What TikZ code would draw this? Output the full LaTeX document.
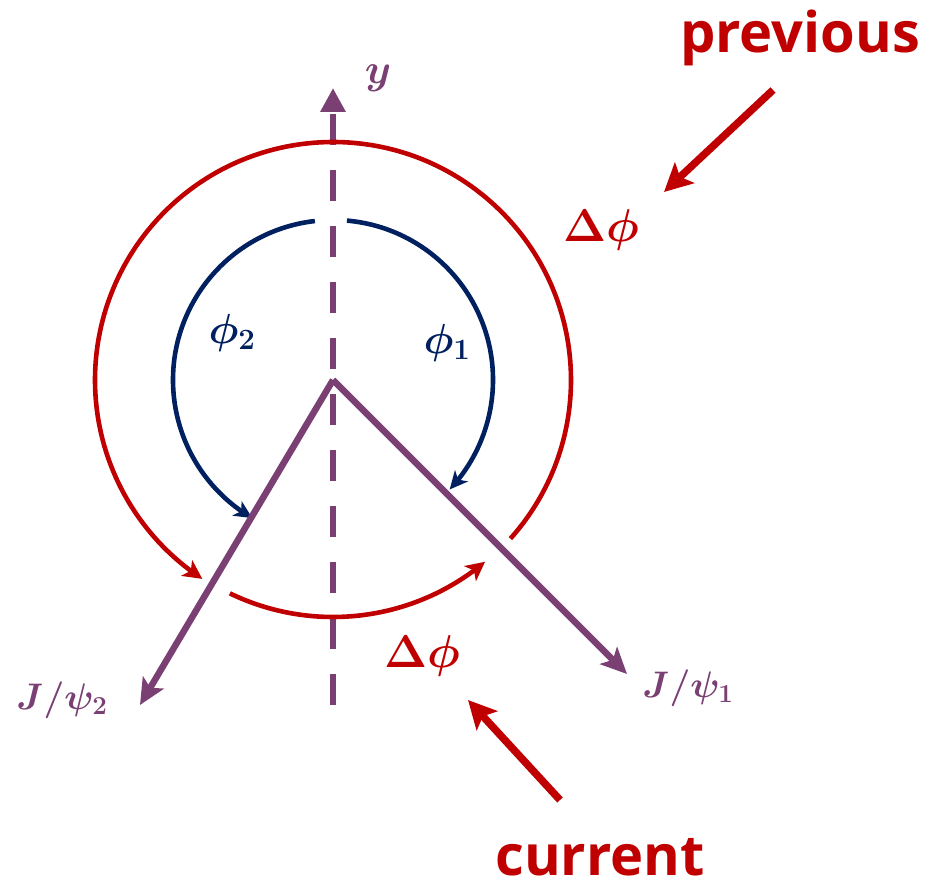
\RequirePackage{fix-cm}
\documentclass[tikz,border=0pt]{standalone}
\usepackage{fontspec}
\usepackage{amsmath,bm}
\newfontfamily\wordfont{Open Sans}
\usetikzlibrary{arrows.meta,bending,calc}
\definecolor{myred}{RGB}{192,0,0}
\definecolor{myblue}{RGB}{0,32,96}
\definecolor{mypurple}{RGB}{122,64,116}
\tikzset{
  redarc/.style={draw=myred,line width=4.6pt,-{Stealth[length=19pt,width=19pt,inset=5pt,flex]}},
  bluearc/.style={draw=myblue,line width=4.6pt,-{Stealth[length=18pt,width=17pt,inset=5pt,flex]}},
  jline/.style={draw=mypurple,line width=6.5pt,-{Stealth[length=26pt,width=24pt,inset=6pt]}},
  yaxis/.style={draw=mypurple,line width=6.5pt,dash pattern=on 31pt off 25pt,-{Triangle[length=24pt,width=24pt]}},
  pointer/.style={draw=myred,line width=7.5pt,-{Stealth[length=28pt,width=28pt,inset=6pt]}},
  wordlbl/.style={text=myred,font=\wordfont\bfseries\fontsize{56}{60}\selectfont,inner sep=0pt,text depth=0pt},
  mathlbl/.style={inner sep=0pt}
}
\begin{document}
\begin{tikzpicture}[x=1pt,y=1pt]
\useasboundingbox (0,0) rectangle (934,886);
\coordinate (C) at (333,506);
\coordinate (ybot) at (333,181);
\coordinate (ytop) at (333,798);
\coordinate (j2) at (140,181);
\coordinate (j1) at (627,212);
% y axis
\draw[yaxis] (ybot) -- (ytop);
% red outer arc
\draw[redarc] ($(C)+(-41.8:238)$) arc[start angle=-41.8,end angle=236.7,radius=238];
% red lower arc
\draw[redarc] ($(C)+(-115.8:237)$) arc[start angle=-115.8,end angle=-50.1,radius=237];
% blue arcs
\draw[bluearc] ($(C)+(96.5:160)$) arc[start angle=96.5,end angle=239.7,radius=160];
\draw[bluearc] ($(C)+(85:160)$) arc[start angle=85,end angle=-43.2,radius=160];
% J/psi lines
\draw[jline] (C) -- (j2);
\draw[jline] (C) -- (j1);
% labels
\node[mathlbl,text=mypurple] (ylbl) at (378,808) {\fontsize{42}{46}\selectfont$\bm{y}$};
\node[mathlbl,text=myblue] (phi2) at (232,553) {\fontsize{42}{46}\selectfont$\bm{\phi_2}$};
\node[mathlbl,text=myblue] (phi1) at (447,543) {\fontsize{42}{46}\selectfont$\bm{\phi_1}$};
\node[mathlbl,text=myred] (dphitop) at (601,656) {\fontsize{46}{50}\selectfont$\bm{\Delta\phi}$};
\node[mathlbl,text=myred] (dphibot) at (422,230) {\fontsize{46}{50}\selectfont$\bm{\Delta\phi}$};
\node[mathlbl,text=mypurple] (jpsi2) at (62,186) {\fontsize{37}{40}\selectfont$\bm{J/\psi_2}$};
\node[mathlbl,text=mypurple] (jpsi1) at (688,198) {\fontsize{37}{40}\selectfont$\bm{J/\psi_1}$};
\node[wordlbl,anchor=base] (prev) at (800,833) {previous};
\node[wordlbl,anchor=base] (curr) at (600,11) {current};
% pointers
\coordinate (pstart) at (773,796);
\coordinate (pend) at (664,694);
\coordinate (cstart) at (560,86);
\coordinate (cend) at (468,186);
\draw[pointer] (pstart) -- (pend);
\draw[pointer] (cstart) -- (cend);
\end{tikzpicture}
\end{document}
